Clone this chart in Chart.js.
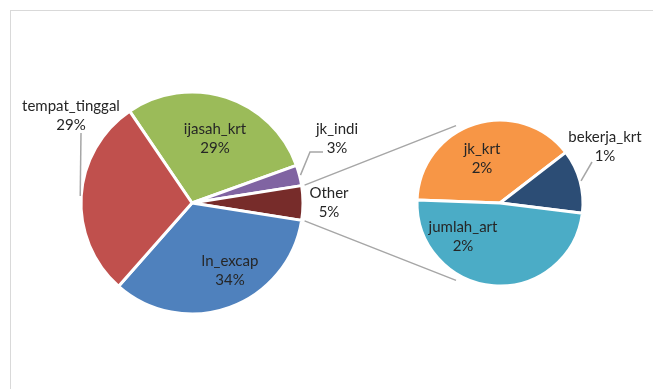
<!DOCTYPE html>
<html>
<head>
<meta charset="utf-8">
<script src="https://cdn.jsdelivr.net/npm/chart.js@4.4.0/dist/chart.umd.min.js"></script>
<style>
html, body { margin: 0; padding: 0; background: #fff; }
#wrap { position: relative; width: 653px; height: 389px; overflow: hidden; }
#frame { position: absolute; left: 10px; top: 10px; width: 700px; height: 400px; border: 1px solid #D9D9D9; }
canvas { position: absolute; left: 0; top: 0; }
</style>
</head>
<body>
<div id="wrap">
  <div id="frame"></div>
  <canvas id="pieUtama" width="653" height="389"></canvas>
  <canvas id="pieKedua" width="653" height="389"></canvas>
</div>
<script>
// data pie utama (persen)
const kategoriUtama = ['ijasah_krt', 'jk_indi', 'Other', 'ln_excap', 'tempat_tinggal'];
const nilaiUtama = [29, 3, 5, 34, 29];

// data pie kedua (rincian "Other")
const kategoriKedua = ['jk_krt', 'bekerja_krt', 'jumlah_art'];
const nilaiKedua = [1.95, 0.62, 2.43];

const warnaUtama = ['#9BBB59', '#8064A2', '#772C2A', '#4F81BD', '#C0504D'];
const warnaKedua = ['#F79646', '#2C4D75', '#4BACC6'];

const totalUtama = nilaiUtama.reduce((a, b) => a + b, 0);
const FONT = '15px Lato';
const WARNA_TEKS = '#262626';
const WARNA_GARIS = '#A6A6A6';

// posisi label (baris pertama) dan titik siku garis penunjuk
const posUtama = [[215, 129], [337, 129], [329, 193], [230, 261], [71, 106]];
const garisUtama = [null, [[323, 152], [310, 152]], null, null, [[81, 133]]];
const posKedua = [[482, 149], [605, 137], [463, 227]];
const garisKedua = [null, [[592, 162]], null];

let chartUtama, chartKedua;

const labelPie = {
    id: 'labelPie',
    afterDatasetsDraw(chart, args, opts) {
        const ctx = chart.ctx;
        const meta = chart.getDatasetMeta(0);
        const labels = chart.data.labels;
        const data = chart.data.datasets[0].data;
        ctx.save();
        meta.data.forEach((arc, i) => {
            const p = arc.getProps(['x', 'y', 'startAngle', 'endAngle', 'outerRadius'], true);
            const siku = opts.garis[i];
            if (siku) {
                const mid = (p.startAngle + p.endAngle) / 2;
                const r = p.outerRadius + 1;
                ctx.beginPath();
                ctx.strokeStyle = WARNA_GARIS;
                ctx.lineWidth = 1.5;
                ctx.moveTo(siku[0][0], siku[0][1]);
                for (let k = 1; k < siku.length; k++) ctx.lineTo(siku[k][0], siku[k][1]);
                ctx.lineTo(p.x + r * Math.cos(mid), p.y + r * Math.sin(mid));
                ctx.stroke();
            }
            const pos = opts.pos[i];
            ctx.font = FONT;
            ctx.fillStyle = WARNA_TEKS;
            ctx.textAlign = 'center';
            ctx.textBaseline = 'middle';
            ctx.fillText(labels[i], pos[0], pos[1]);
            ctx.fillText(Math.round(data[i] / totalUtama * 100) + '%', pos[0], pos[1] + 19);
        });
        ctx.restore();
    }
};

const garisPenghubung = {
    id: 'garisPenghubung',
    beforeDatasetsDraw(chart) {
        if (!chartUtama) return;
        const other = chartUtama.getDatasetMeta(0).data[kategoriUtama.indexOf('Other')];
        const a = other.getProps(['x', 'y', 'startAngle', 'endAngle', 'outerRadius'], true);
        const b = chart.getDatasetMeta(0).data[0].getProps(['x', 'y', 'outerRadius'], true);
        const ra = a.outerRadius + 3;
        const rb = b.outerRadius + 6;
        const atas = (330.4 - 90) * Math.PI / 180;
        const bawah = (209.6 - 90) * Math.PI / 180;
        const ctx = chart.ctx;
        ctx.save();
        ctx.strokeStyle = WARNA_GARIS;
        ctx.lineWidth = 1.5;
        ctx.beginPath();
        ctx.moveTo(a.x + ra * Math.cos(a.startAngle), a.y + ra * Math.sin(a.startAngle));
        ctx.lineTo(b.x + rb * Math.cos(atas), b.y + rb * Math.sin(atas));
        ctx.moveTo(a.x + ra * Math.cos(a.endAngle), a.y + ra * Math.sin(a.endAngle));
        ctx.lineTo(b.x + rb * Math.cos(bawah), b.y + rb * Math.sin(bawah));
        ctx.stroke();
        ctx.restore();
    }
};

function opsiPie(rotasi, radius, padding, pos, garis) {
    return {
        responsive: false,
        animation: false,
        rotation: rotasi,
        radius: radius,
        layout: { padding: padding },
        events: [],
        plugins: {
            legend: { display: false },
            tooltip: { enabled: false },
            labelPie: { pos: pos, garis: garis }
        }
    };
}

chartUtama = new Chart(document.getElementById('pieUtama'), {
    type: 'pie',
    data: {
        labels: kategoriUtama,
        datasets: [{
            data: nilaiUtama,
            backgroundColor: warnaUtama,
            borderColor: '#fff',
            borderWidth: 3,
            hoverOffset: 0
        }]
    },
    options: opsiPie(-34.2, 111, { left: 0, right: 269, top: 17, bottom: 0 }, posUtama, garisUtama),
    plugins: [labelPie]
});

chartKedua = new Chart(document.getElementById('pieKedua'), {
    type: 'pie',
    data: {
        labels: kategoriKedua,
        datasets: [{
            data: nilaiKedua,
            backgroundColor: warnaKedua,
            borderColor: '#fff',
            borderWidth: 3,
            hoverOffset: 0
        }]
    },
    options: opsiPie(-88, 83, { left: 400, right: 53, top: 17, bottom: 0 }, posKedua, garisKedua),
    plugins: [garisPenghubung, labelPie]
});
</script>
</body>
</html>
